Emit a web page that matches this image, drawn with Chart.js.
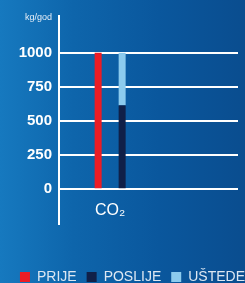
<!DOCTYPE html>
<html>
<head>
<meta charset="utf-8">
<script src="https://cdn.jsdelivr.net/npm/chart.js@4"></script>
<style>
  html, body { margin: 0; padding: 0; }
  #chart {
    display: block;
    background: linear-gradient(90deg, #1679bf 0%, #0e65ab 30%, #0a579d 65%, #0a4d8f 100%);
  }
</style>
</head>
<body>
<canvas id="chart" width="245" height="283"></canvas>
<script>
const categories = ["CO₂"];
const prije = [1000];
const poslije = [615];
const ustede = [385];
const yTicks = [0, 250, 500, 750, 1000];
const unitText = "kg/god";

// empty slots around the category push it to the left part of the plot
const padBefore = 2;
const padAfter = 5;
const pad = (arr, fill) => [
    ...Array(padBefore).fill(fill),
    ...arr,
    ...Array(padAfter).fill(fill),
];

const unitLabel = {
    id: "unitLabel",
    afterDraw(chart) {
        const ctx = chart.ctx;
        const y = chart.scales.y;
        ctx.save();
        ctx.font = '9px "Liberation Sans", Arial, sans-serif';
        ctx.fillStyle = "#e6eef7";
        ctx.textAlign = "right";
        ctx.textBaseline = "alphabetic";
        ctx.fillText(unitText, y.right - 7, chart.chartArea.top + 4);
        ctx.restore();
    },
};

const ctx = document.querySelector("#chart");

new Chart(ctx, {
    type: "bar",
    data: {
        labels: pad(categories, ""),
        datasets: [
            { label: "PRIJE", data: pad(prije, null), backgroundColor: "#ec1c24", stack: "a" },
            { label: "POSLIJE", data: pad(poslije, null), backgroundColor: "#102048", stack: "b" },
            { label: "UŠTEDE", data: pad(ustede, null), backgroundColor: "#8ccbee", stack: "b" },
        ],
    },
    options: {
        responsive: false,
        animation: false,
        categoryPercentage: 1.877,
        barPercentage: 0.292,
        layout: { padding: { top: 15, right: -10, bottom: -11, left: 0 } },
        plugins: {
            tooltip: { enabled: false },
            legend: {
                position: "bottom",
                align: "end",
                labels: {
                    boxWidth: 10,
                    boxHeight: 10,
                    padding: 10,
                    color: "#dde7f2",
                    font: { size: 14, family: '"Liberation Sans", Arial, sans-serif' },
                },
            },
        },
        scales: {
            x: {
                offset: false,
                grid: { display: false, drawTicks: false },
                border: { display: false },
                ticks: {
                    autoSkip: false,
                    maxRotation: 0,
                    mirror: true,
                    padding: 4,
                    color: "#ffffff",
                    font: { size: 16, family: '"Liberation Sans", Arial, sans-serif' },
                },
                afterFit: (s) => { s.height = 36; },
            },
            y: {
                stacked: true,
                min: -255,
                max: 1270,
                afterBuildTicks: (s) => { s.ticks = yTicks.map((v) => ({ value: v })); },
                afterFit: (s) => { s.width = 59; },
                grid: { color: "#ffffff", lineWidth: 2, drawTicks: false },
                border: { color: "#ffffff", width: 2 },
                ticks: {
                    padding: 7,
                    color: "#ffffff",
                    font: { size: 15, weight: "bold", family: '"Liberation Sans", Arial, sans-serif' },
                    callback: (v) => String(v),
                },
            },
            pad: {
                type: "linear",
                position: "right",
                grid: { display: false },
                border: { display: false },
                ticks: { display: false },
                afterFit: (s) => { s.width = 17; },
            },
        },
    },
    plugins: [unitLabel],
});
</script>
</body>
</html>
